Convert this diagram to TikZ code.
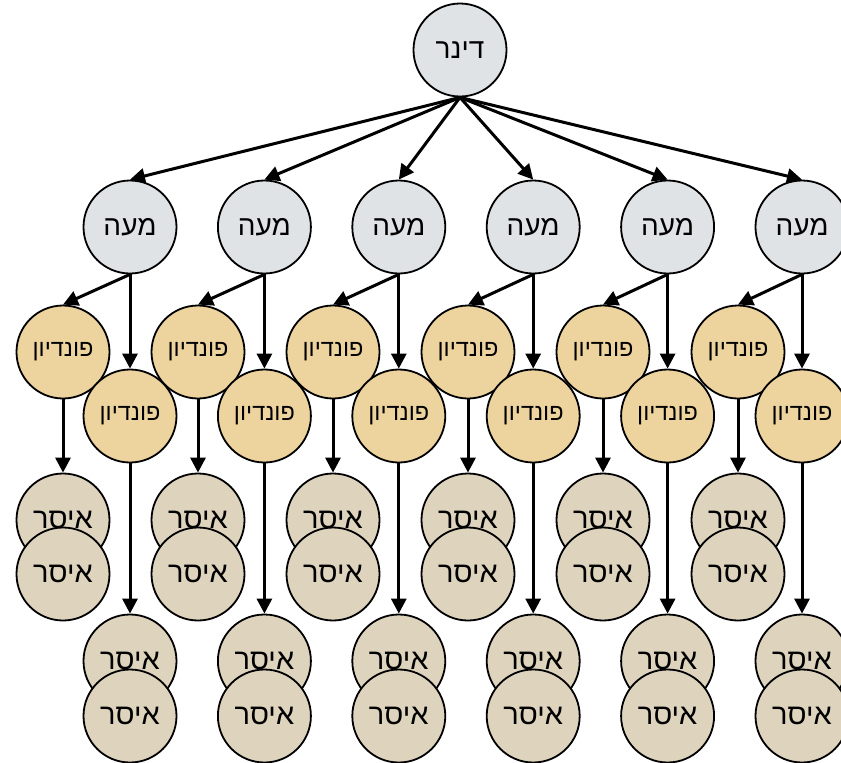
\documentclass[tikz,border=0pt]{standalone}
\usepackage{fontspec}
\setmainfont{Liberation Sans}
\newfontfamily\hebfont[Script=Hebrew]{Liberation Sans}
\TeXXeTstate=1
\usetikzlibrary{arrows.meta}
\newcommand{\heb}[1]{\beginR #1\endR}
\definecolor{silverc}{RGB}{224,227,230}
\definecolor{goldc}{RGB}{237,212,158}
\definecolor{bronzec}{RGB}{222,212,190}
\begin{document}
\begin{tikzpicture}[x=1pt,y=-1pt,
  coin/.style={circle, draw=black, line width=1.8pt, minimum size=93pt, inner sep=0pt},
  silver/.style={coin, fill=silverc, font=\hebfont\fontsize{28}{30}\selectfont},
  gold/.style={coin, fill=goldc, font=\hebfont\fontsize{23.5}{25}\selectfont},
  bronze/.style={coin, fill=bronzec, font=\hebfont\fontsize{29}{31}\selectfont},
  conn/.style={line width=3pt, -{Triangle[length=15pt,width=15pt]}}]
\useasboundingbox (0,0) rectangle (841,763);
\clip (0,0) rectangle (841,763);
\node[silver] (d) at (460,50) {\heb{דינר}};
\foreach \i in {0,...,5} {
  \pgfmathsetmacro\mx{130+134.4*\i}
  \pgfmathsetmacro\fx{63+135*\i}
  \node[silver] (m\i) at (\mx,227) {\heb{מעה}};
  \node[gold] (fa\i) at (\fx,352) {\heb{פונדיון}};
  \node[gold] (fb\i) at (\mx,416) {\heb{פונדיון}};
  \node[bronze] (ia\i) at (\fx,520) {\heb{איסר}};
  \node[bronze] (ib\i) at (\fx,574) {\heb{איסר}};
  \node[bronze] (ic\i) at (\mx,661) {\heb{איסר}};
  \node[bronze] (id\i) at (\mx,716) {\heb{איסר}};
}
\foreach \i in {0,...,5} {
  \draw[conn] (d.south) -- (m\i.north);
  \draw[conn] (m\i.south) -- (fa\i.north);
  \draw[conn] (m\i.south) -- (fb\i.north);
  \draw[conn] (fa\i.south) -- (ia\i.north);
  \draw[conn] (fb\i.south) -- (ic\i.north);
}
\end{tikzpicture}
\end{document}
